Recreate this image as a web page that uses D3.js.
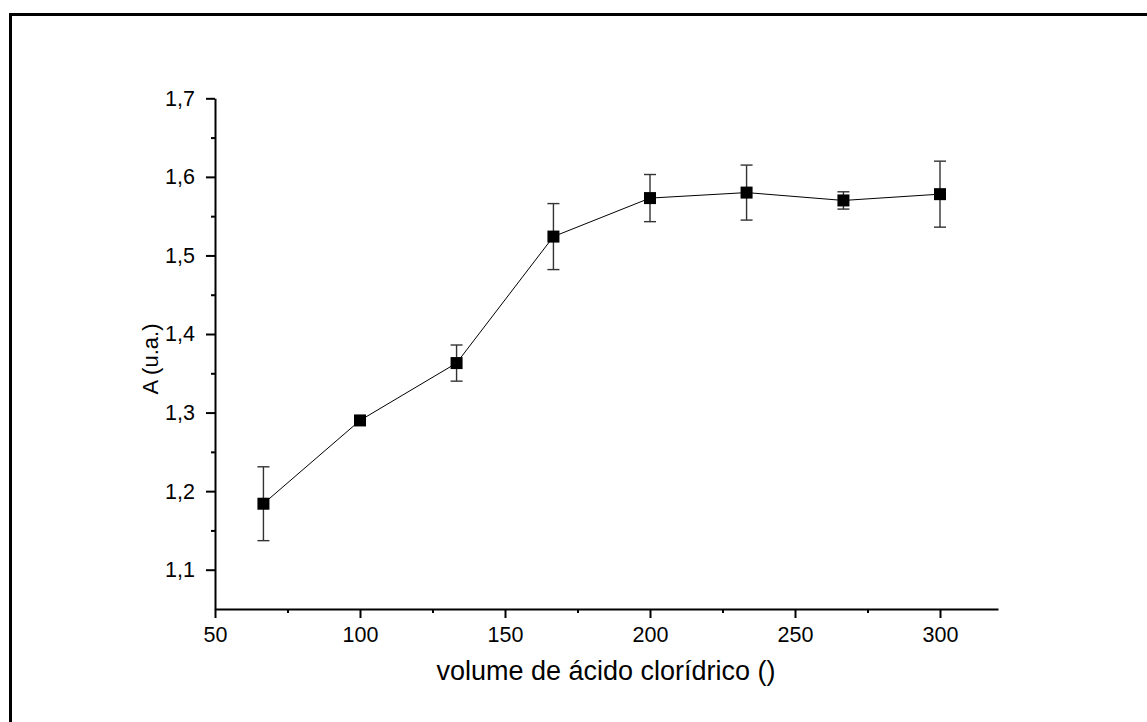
<!DOCTYPE html>
<html>
<head>
<meta charset="utf-8">
<script src="https://cdn.jsdelivr.net/npm/d3@7"></script>
<style>
  html, body { margin: 0; padding: 0; background: #fff; }
  svg { display: block; }
  text { font-family: "Liberation Sans", Arial, sans-serif; fill: #000; }
</style>
</head>
<body>
<svg id="chart" width="1147" height="722"></svg>
<script>
// HCl volume and measured absorbance with standard deviations
const volumes = [66.7, 100, 133.3, 166.7, 200, 233.3, 266.7, 300];
const absorbance = [1.184, 1.290, 1.363, 1.524, 1.573, 1.580, 1.570, 1.578];
const errors = [0.047, 0.004, 0.023, 0.042, 0.030, 0.035, 0.011, 0.042];
const xTicks = [50, 100, 150, 200, 250, 300];
const yTicks = [1.1, 1.2, 1.3, 1.4, 1.5, 1.6, 1.7];
const xLabel = "volume de ácido clorídrico ()";
const yLabel = "A (u.a.)";

const svg = d3.select("#chart");
const W = 1147, H = 722;

const x = d3.scaleLinear().domain([50, 320]).range([215, 998]);
const y = d3.scaleLinear().domain([1.05, 1.7]).range([609, 98.3]);

// outer frame (top and left edges)
svg.append("path")
  .attr("d", `M10.5,${H} V14.5 H${W}`)
  .attr("fill", "none").attr("stroke", "#000").attr("stroke-width", 3);

const fmt = d => d3.format(".1f")(d).replace(".", ",");

// minor ticks
const xMinor = d3.range(75, 320, 50);
const yMinor = d3.range(1.15, 1.7, 0.1);

const gx = svg.append("g").attr("transform", `translate(0,${y.range()[0]})`);
gx.call(d3.axisBottom(x).tickValues(xTicks).tickSize(9).tickPadding(9).tickSizeOuter(0).tickFormat(d3.format("d")));
gx.append("g").call(d3.axisBottom(x).tickValues(xMinor).tickSize(4).tickFormat(""))
  .select(".domain").remove();

const gy = svg.append("g").attr("transform", `translate(${x.range()[0]},0)`);
gy.call(d3.axisLeft(y).tickValues(yTicks).tickSize(9).tickPadding(11).tickSizeOuter(0).tickFormat(fmt));
gy.append("g").call(d3.axisLeft(y).tickValues(yMinor).tickSize(4).tickFormat(""))
  .select(".domain").remove();

svg.selectAll(".domain").attr("stroke-width", 2).attr("stroke", "#000");
svg.selectAll(".tick line").attr("stroke-width", 2).attr("stroke", "#000");
svg.selectAll(".tick text").style("font-size", "21.5px").attr("fill", "#000")
  .style("font-family", "'Liberation Sans', Arial, sans-serif");

// axis titles
svg.append("text").attr("x", 606).attr("y", 680).attr("text-anchor", "middle")
  .style("font-size", "27px").text(xLabel);
svg.append("text").attr("transform", `translate(158,${359}) rotate(-90)`)
  .attr("text-anchor", "middle").style("font-size", "22px").text(yLabel);

const pts = volumes.map((v, i) => ({ v, a: absorbance[i], e: errors[i] }));

// connecting line
svg.append("path").datum(pts)
  .attr("d", d3.line().x(d => x(d.v)).y(d => y(d.a)))
  .attr("fill", "none").attr("stroke", "#000").attr("stroke-width", 1);

// error bars
const eb = svg.append("g").attr("stroke", "#333").attr("stroke-width", 1.4);
pts.forEach(d => {
  const cx = x(d.v), t = y(d.a + d.e), b = y(d.a - d.e);
  eb.append("line").attr("x1", cx).attr("x2", cx).attr("y1", t).attr("y2", b);
  eb.append("line").attr("x1", cx - 6).attr("x2", cx + 6).attr("y1", t).attr("y2", t);
  eb.append("line").attr("x1", cx - 6).attr("x2", cx + 6).attr("y1", b).attr("y2", b);
});

// square markers
svg.append("g").selectAll("rect").data(pts).join("rect")
  .attr("x", d => x(d.v) - 6).attr("y", d => y(d.a) - 6)
  .attr("width", 12).attr("height", 12).attr("fill", "#000");
</script>
</body>
</html>
